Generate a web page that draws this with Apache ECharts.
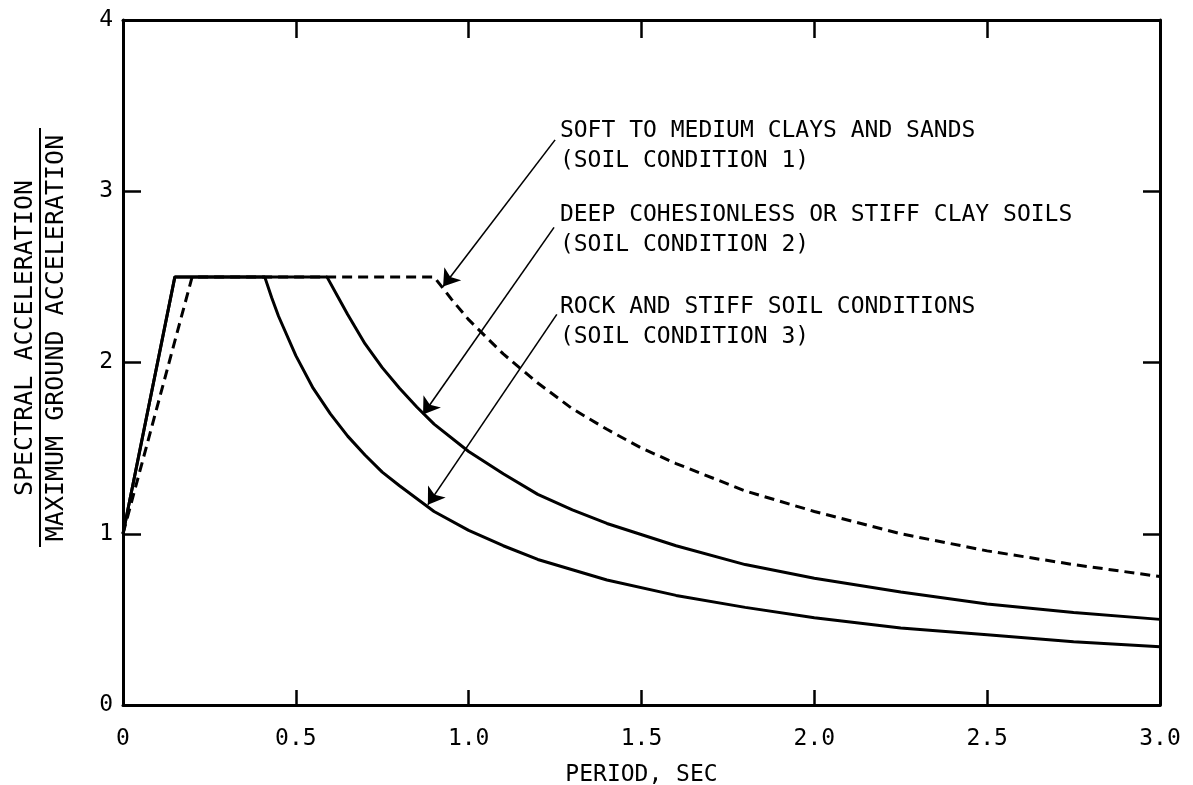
<!DOCTYPE html>
<html>
<head>
<meta charset="utf-8">
<script src="https://cdn.jsdelivr.net/npm/echarts@6/dist/echarts.min.js"></script>
<style>
html,body{margin:0;padding:0;background:#fff;}
#chart{width:1193px;height:785px;}
</style>
</head>
<body>
<div id="chart"></div>
<script>
// ---- data ----
const xTickLabels = ['0', '0.5', '1.0', '1.5', '2.0', '2.5', '3.0'];
const yTickLabels = ['0', '1', '2', '3', '4'];

// Soil condition 1 (soft to medium clays and sands) - dashed
const soil1T  = [0, 0.20, 0.90, 0.95, 1.00, 1.10, 1.20, 1.30, 1.40, 1.50, 1.60, 1.80, 2.00, 2.25, 2.50, 2.75, 3.00];
const soil1Sa = [1.0, 2.50, 2.50, 2.37, 2.25, 2.05, 1.88, 1.73, 1.61, 1.50, 1.41, 1.25, 1.13, 1.00, 0.90, 0.82, 0.75];

// Soil condition 2 (deep cohesionless or stiff clay soils) - solid
const soil2T  = [0, 0.15, 0.59, 0.62, 0.65, 0.70, 0.75, 0.80, 0.85, 0.90, 1.00, 1.10, 1.20, 1.30, 1.40, 1.60, 1.80, 2.00, 2.25, 2.50, 2.75, 3.00];
const soil2Sa = [1.0, 2.50, 2.50, 2.39, 2.28, 2.11, 1.97, 1.85, 1.74, 1.64, 1.48, 1.35, 1.23, 1.14, 1.06, 0.93, 0.82, 0.74, 0.66, 0.59, 0.54, 0.50];

// Soil condition 3 (rock and stiff soil conditions) - solid
const soil3T  = [0, 0.15, 0.41, 0.43, 0.45, 0.50, 0.55, 0.60, 0.65, 0.70, 0.75, 0.80, 0.90, 1.00, 1.10, 1.20, 1.30, 1.40, 1.60, 1.80, 2.00, 2.25, 2.50, 2.75, 3.00];
const soil3Sa = [1.0, 2.50, 2.50, 2.38, 2.27, 2.04, 1.85, 1.70, 1.57, 1.46, 1.36, 1.28, 1.13, 1.02, 0.93, 0.85, 0.79, 0.73, 0.64, 0.57, 0.51, 0.45, 0.41, 0.37, 0.34];

// annotation texts and their anchor (data units)
const noteTexts = [
  'SOFT TO MEDIUM CLAYS AND SANDS\n(SOIL CONDITION 1)',
  'DEEP COHESIONLESS OR STIFF CLAY SOILS\n(SOIL CONDITION 2)',
  'ROCK AND STIFF SOIL CONDITIONS\n(SOIL CONDITION 3)'
];
const noteX = [1.264, 1.264, 1.264];
const noteY = [3.263, 2.772, 2.234];

// leader arrows: start (near text) -> tip (on curve), data units
const arrowStartX = [1.250, 1.247, 1.255];
const arrowStartY = [3.300, 2.789, 2.281];
const arrowTipX   = [0.926, 0.868, 0.882];
const arrowTipY   = [2.444, 1.696, 1.170];

const xTitle = 'PERIOD, SEC';
const yTitleTop = 'SPECTRAL ACCELERATION';
const yTitleBottom = 'MAXIMUM GROUND ACCELERATION';

// ---- build ----
const FONT = 'DejaVu Sans Mono';
const INK = '#000';
const zip = (a, b) => a.map((v, i) => [v, b[i]]);

const chart = echarts.init(document.getElementById('chart'), null, {renderer: 'canvas'});

const option = {
  backgroundColor: '#ffffff',
  animation: false,
  grid: {left: 123, right: 33, top: 20, bottom: 80, containLabel: false, outerBoundsMode: 'none'},
  xAxis: [
    {
      type: 'value', min: 0, max: 3, interval: 0.5, position: 'bottom',
      axisLine: {show: true, onZero: false, lineStyle: {color: INK, width: 3}},
      axisTick: {show: true, inside: true, length: 15, lineStyle: {color: INK, width: 2.5}},
      splitLine: {show: false},
      axisLabel: {
        show: true, margin: 23, color: INK, fontFamily: FONT, fontSize: 23,
        formatter: v => xTickLabels[Math.round(v / 0.5)]
      },
      name: xTitle, nameLocation: 'middle', nameGap: 59,
      nameTextStyle: {color: INK, fontFamily: FONT, fontSize: 23}
    },
    {
      type: 'value', min: 0, max: 3, interval: 0.5, position: 'top',
      axisLine: {show: true, onZero: false, lineStyle: {color: INK, width: 3}},
      axisTick: {show: true, inside: true, length: 18, lineStyle: {color: INK, width: 2.5}},
      splitLine: {show: false},
      axisLabel: {show: false}
    }
  ],
  yAxis: [
    {
      type: 'value', min: 0, max: 4, interval: 1, position: 'left',
      axisLine: {show: true, onZero: false, lineStyle: {color: INK, width: 3}},
      axisTick: {show: true, inside: true, length: 18, lineStyle: {color: INK, width: 2.5}},
      splitLine: {show: false},
      axisLabel: {
        show: true, margin: 10, color: INK, fontFamily: FONT, fontSize: 23,
        formatter: v => yTickLabels[Math.round(v)]
      }
    },
    {
      type: 'value', min: 0, max: 4, interval: 1, position: 'right',
      axisLine: {show: true, onZero: false, lineStyle: {color: INK, width: 3}},
      axisTick: {show: true, inside: true, length: 17, lineStyle: {color: INK, width: 2.5}},
      splitLine: {show: false},
      axisLabel: {show: false}
    }
  ],
  series: [
    {
      name: 'Soil condition 1', type: 'line', data: zip(soil1T, soil1Sa),
      symbol: 'none', smooth: false,
      lineStyle: {color: INK, width: 3, type: [10, 6]}
    },
    {
      name: 'Soil condition 2', type: 'line', data: zip(soil2T, soil2Sa),
      symbol: 'none', smooth: false,
      lineStyle: {color: INK, width: 3}
    },
    {
      name: 'Soil condition 3', type: 'line', data: zip(soil3T, soil3Sa),
      symbol: 'none', smooth: false,
      lineStyle: {color: INK, width: 3}
    },
    {
      name: 'frame', type: 'line', xAxisIndex: 1, yAxisIndex: 1, data: [],
      symbol: 'none', silent: true
    },
    {
      name: 'arrows', type: 'lines', coordinateSystem: 'cartesian2d',
      symbol: ['none', 'arrow'], symbolSize: 16,
      lineStyle: {color: INK, width: 1.6, opacity: 1, curveness: 0},
      data: arrowStartX.map((x, i) => ({coords: [[x, arrowStartY[i]], [arrowTipX[i], arrowTipY[i]]]})),
      silent: true, z: 5
    },
    {
      name: 'notes', type: 'scatter', symbolSize: 0,
      data: noteX.map((x, i) => [x, noteY[i], noteTexts[i]]),
      itemStyle: {opacity: 1},
      label: {
        show: true, position: 'right', distance: 0, color: INK, opacity: 1,
        fontFamily: FONT, fontSize: 23, lineHeight: 30, align: 'left', verticalAlign: 'middle',
        formatter: p => p.data[2]
      },
      silent: true
    }
  ],
  graphic: [
    {
      type: 'text', x: 25, y: 338, rotation: Math.PI / 2,
      style: {text: yTitleTop, fill: INK, font: '25px "DejaVu Sans Mono"', textAlign: 'center', textVerticalAlign: 'middle'}
    },
    {
      type: 'line', shape: {x1: 40, y1: 128, x2: 40, y2: 547},
      style: {stroke: INK, lineWidth: 2}
    },
    {
      type: 'text', x: 56, y: 338, rotation: Math.PI / 2,
      style: {text: yTitleBottom, fill: INK, font: '25px "DejaVu Sans Mono"', textAlign: 'center', textVerticalAlign: 'middle'}
    }
  ]
};

chart.setOption(option);
</script>
</body>
</html>
